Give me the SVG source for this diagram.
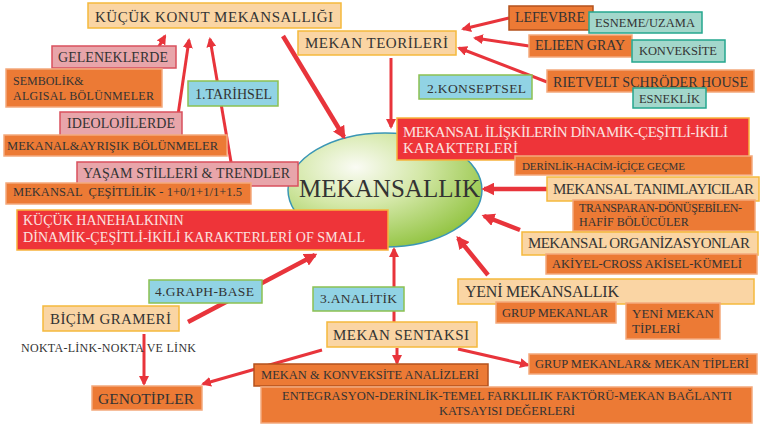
<svg xmlns="http://www.w3.org/2000/svg" width="761" height="425" viewBox="0 0 761 425">
<defs>
<radialGradient id="eg" cx="0.35" cy="0.3" r="0.75">
<stop offset="0" stop-color="#FAFBF4"/>
<stop offset="0.45" stop-color="#D4E8A8"/>
<stop offset="1" stop-color="#93C443"/>
</radialGradient>
<marker id="ah" viewBox="0 0 10 10" refX="8" refY="5" markerWidth="10" markerHeight="10" markerUnits="userSpaceOnUse" orient="auto">
<path d="M0,0 L10,5 L0,10 z" fill="#E8343B"/>
</marker>
<marker id="ahb" viewBox="0 0 10 10" refX="8" refY="5" markerWidth="13" markerHeight="13" markerUnits="userSpaceOnUse" orient="auto">
<path d="M0,0 L10,5 L0,10 z" fill="#E8343B"/>
</marker>
<style>
text{font-family:'Liberation Serif','DejaVu Serif',serif;fill:#333;}
.w{fill:#FBE3E0;}
.peach{fill:#FAD5A4;stroke:#F5B93C;stroke-width:1.5;}
.org{fill:#EC7A35;stroke:#F4A97C;stroke-width:1.5;}
.orgd{fill:#EC7A35;stroke:#B4521D;stroke-width:1.5;}
.pink{fill:#E8A5AA;stroke:#D9505D;stroke-width:1.5;}
.teal{fill:#A3D7CB;stroke:#25A78E;stroke-width:1.5;}
.blue{fill:#91D3E4;stroke:#8CC152;stroke-width:1.5;}
.red{fill:#EE3439;stroke:#F7B23B;stroke-width:1.5;}
.c{stroke:#E8343B;fill:none;stroke-width:3;marker-end:url(#ah);}
.cb{stroke:#E8343B;fill:none;stroke-width:4.5;marker-end:url(#ahb);}
</style>
</defs>

<g id="mekansallik">
<ellipse cx="385" cy="190" rx="97" ry="57" fill="url(#eg)" stroke="#3A96B5" stroke-width="1.5"/>
</g>

<g id="connectors">
<line class="c" x1="151" y1="60" x2="165" y2="36"/>
<line class="c" x1="178" y1="115" x2="189" y2="40"/>
<line class="c" x1="231" y1="162" x2="210" y2="39"/>
<line class="cb" x1="283" y1="36" x2="344" y2="137"/>
<line class="c" x1="391" y1="58" x2="391" y2="127"/>
<line class="c" x1="509" y1="18" x2="463" y2="29"/>
<line class="c" x1="529" y1="46" x2="475" y2="38"/>
<line class="c" x1="547" y1="82" x2="459" y2="48"/>
<line class="cb" x1="547" y1="189" x2="484" y2="189"/>
<line class="cb" x1="520" y1="230" x2="484" y2="216"/>
<line class="cb" x1="488" y1="275" x2="458" y2="238"/>
<line class="c" x1="394" y1="322" x2="394" y2="249"/>
<line class="cb" x1="188" y1="322" x2="315" y2="255"/>
<line class="c" x1="144" y1="334" x2="144" y2="384"/>
<line class="c" x1="322" y1="350" x2="203" y2="384"/>
<line class="c" x1="397" y1="348" x2="397" y2="363"/>
<line class="c" x1="458" y1="349" x2="528" y2="365"/>
</g>

<g id="kucuk-konut"><rect class="peach" x="88" y="3" width="253" height="25"/><text x="95" y="21.5" font-size="15" textLength="238">KÜÇÜK KONUT MEKANSALLIĞI</text></g>
<g id="geleneklerde"><rect class="pink" x="52" y="46" width="124" height="22"/><text x="58" y="62" font-size="14" textLength="110">GELENEKLERDE</text></g>
<g id="sembolik"><rect class="org" x="6" y="69" width="156" height="38"/><text x="13" y="85" font-size="12">SEMBOLİK&amp;</text><text x="13" y="100" font-size="12" textLength="141">ALGISAL BÖLÜNMELER</text></g>
<g id="tarihsel"><rect class="blue" x="188" y="81" width="90" height="25"/><text x="195" y="99" font-size="14" textLength="77">1.TARİHSEL</text></g>
<g id="ideolojilerde"><rect class="pink" x="60" y="112" width="122" height="24"/><text x="67" y="128" font-size="14" textLength="108">IDEOLOJİLERDE</text></g>
<g id="mekanal"><rect class="org" x="4" y="135" width="223" height="21"/><text x="7" y="150" font-size="12.5" textLength="211">MEKANAL&amp;AYRIŞIK BÖLÜNMELER</text></g>
<g id="yasam"><rect class="pink" x="77" y="162" width="221" height="24"/><text x="83" y="178" font-size="14" textLength="207">YAŞAM STİLLERİ &amp; TRENDLER</text></g>
<g id="cesitlilik"><rect class="org" x="6" y="183" width="245" height="21"/><text x="13" y="196" font-size="12.5" textLength="229" xml:space="preserve">MEKANSAL  ÇEŞİTLİLİK - 1+0/1+1/1+1.5</text></g>
<g id="hanehalki"><rect class="red" x="17" y="210" width="371" height="40"/><text class="w" x="23" y="225" font-size="14">KÜÇÜK HANEHALKININ</text><text class="w" x="23" y="242" font-size="14" textLength="342">DİNAMİK-ÇEŞİTLİ-İKİLİ KARAKTERLERİ OF SMALL</text></g>

<g id="mekan-teorileri"><rect class="peach" x="298" y="31" width="158" height="24"/><text x="305" y="48" font-size="15" textLength="143">MEKAN TEORİLERİ</text></g>
<g id="lefevbre"><rect class="orgd" x="509" y="6" width="84" height="24"/><text x="515" y="22" font-size="14" textLength="70">LEFEVBRE</text></g>
<g id="esneme"><rect class="teal" x="589" y="12" width="113" height="21"/><text x="595" y="27" font-size="12.5" textLength="100">ESNEME/UZAMA</text></g>
<g id="elieen"><rect class="org" x="529" y="35" width="103" height="22"/><text x="535" y="50" font-size="14" textLength="90">ELIEEN GRAY</text></g>
<g id="konveksite"><rect class="teal" x="632" y="40" width="93" height="22"/><text x="639" y="55" font-size="12.5" textLength="78">KONVEKSİTE</text></g>
<g id="rietvelt"><rect class="org" x="547" y="70" width="207" height="22"/><text x="553" y="87" font-size="14" textLength="195">RIETVELT SCHRÖDER HOUSE</text></g>
<g id="esneklik"><rect class="teal" x="633" y="88" width="73" height="20"/><text x="639" y="103" font-size="12.5" textLength="61">ESNEKLİK</text></g>
<g id="konseptsel"><rect class="blue" x="419" y="75" width="113" height="24"/><text x="427" y="93" font-size="13.5" textLength="99">2.KONSEPTSEL</text></g>

<g id="iliskiler"><rect class="red" x="397" y="118" width="352" height="42"/><text class="w" x="403" y="137" font-size="15" textLength="325">MEKANSAL İLİŞKİLERİN DİNAMİK-ÇEŞİTLİ-İKİLİ</text><text class="w" x="403" y="153" font-size="15">KARAKTERLERİ</text></g>
<g id="derinlik"><rect class="org" x="515" y="156" width="237" height="19"/><text x="522" y="169.5" font-size="11" textLength="163">DERİNLİK-HACİM-İÇİÇE GEÇME</text></g>
<g id="tanimlayicilar"><rect class="peach" x="547" y="177" width="212" height="24"/><text x="553" y="194" font-size="15" textLength="201">MEKANSAL TANIMLAYICILAR</text></g>
<g id="transparan"><rect class="org" x="573" y="200" width="182" height="31"/><text x="579" y="212" font-size="12" textLength="163">TRANSPARAN-DÖNÜŞEBİLEN-</text><text x="579" y="226" font-size="12">HAFİF BÖLÜCÜLER</text></g>
<g id="organizasyonlar"><rect class="peach" x="522" y="232" width="236" height="23"/><text x="528" y="248" font-size="15" textLength="222">MEKANSAL ORGANİZASYONLAR</text></g>
<g id="akiyel"><rect class="org" x="546" y="254" width="211" height="20"/><text x="552" y="268" font-size="12.5" textLength="190">AKİYEL-CROSS AKİSEL-KÜMELİ</text></g>
<g id="yeni-mekansallik"><rect class="peach" x="458" y="279" width="296" height="25"/><text x="465" y="297" font-size="16" textLength="154">YENİ MEKANSALLIK</text></g>
<g id="grup-mekanlar"><rect class="org" x="496" y="302" width="120" height="21"/><text x="502" y="317" font-size="12.5" textLength="106">GRUP MEKANLAR</text></g>
<g id="yeni-mekan-tipleri"><rect class="org" x="626" y="303" width="94" height="36"/><text x="632" y="318" font-size="13">YENİ MEKAN</text><text x="632" y="333" font-size="13">TİPLERİ</text></g>
<g id="grup-tipleri"><rect class="org" x="529" y="354" width="228" height="20"/><text x="535" y="368" font-size="12.5" textLength="214">GRUP MEKANLAR&amp; MEKAN TİPLERİ</text></g>

<g id="analitik"><rect class="blue" x="313" y="287" width="91" height="24"/><text x="320" y="303" font-size="13.5" textLength="77">3.ANALİTİK</text></g>
<g id="mekan-sentaksi"><rect class="peach" x="327" y="322" width="150" height="25"/><text x="333" y="340" font-size="15" textLength="136">MEKAN SENTAKSI</text></g>
<g id="konveksite-analiz"><rect class="orgd" x="254" y="364" width="234" height="22"/><text x="261" y="378.5" font-size="12.5" textLength="218">MEKAN &amp; KONVEKSİTE ANALİZLERİ</text></g>
<g id="entegrasyon"><rect class="org" x="261" y="387" width="491" height="36"/><text x="507" y="400" font-size="12.5" text-anchor="middle" textLength="450">ENTEGRASYON-DERİNLİK-TEMEL FARKLILIK FAKTÖRÜ-MEKAN BAĞLANTI</text><text x="507" y="415" font-size="12.5" text-anchor="middle">KATSAYISI DEĞERLERİ</text></g>

<g id="graph-base"><rect class="blue" x="149" y="280" width="113" height="23"/><text x="155" y="296" font-size="13.5" textLength="99">4.GRAPH-BASE</text></g>
<g id="bicim"><rect class="peach" x="43" y="306" width="136" height="25"/><text x="50" y="323.5" font-size="15" textLength="121">BİÇİM GRAMERİ</text></g>
<g id="nokta"><text x="21" y="352" font-size="12" textLength="175">NOKTA-LİNK-NOKTA VE LİNK</text></g>
<g id="genotipler"><rect class="org" x="92" y="386" width="110" height="24"/><text x="98" y="403.5" font-size="15.5" textLength="96">GENOTİPLER</text></g>

<g id="mekansallik-label"><text x="299" y="197" font-size="25" textLength="181">MEKANSALLIK</text></g>
</svg>
